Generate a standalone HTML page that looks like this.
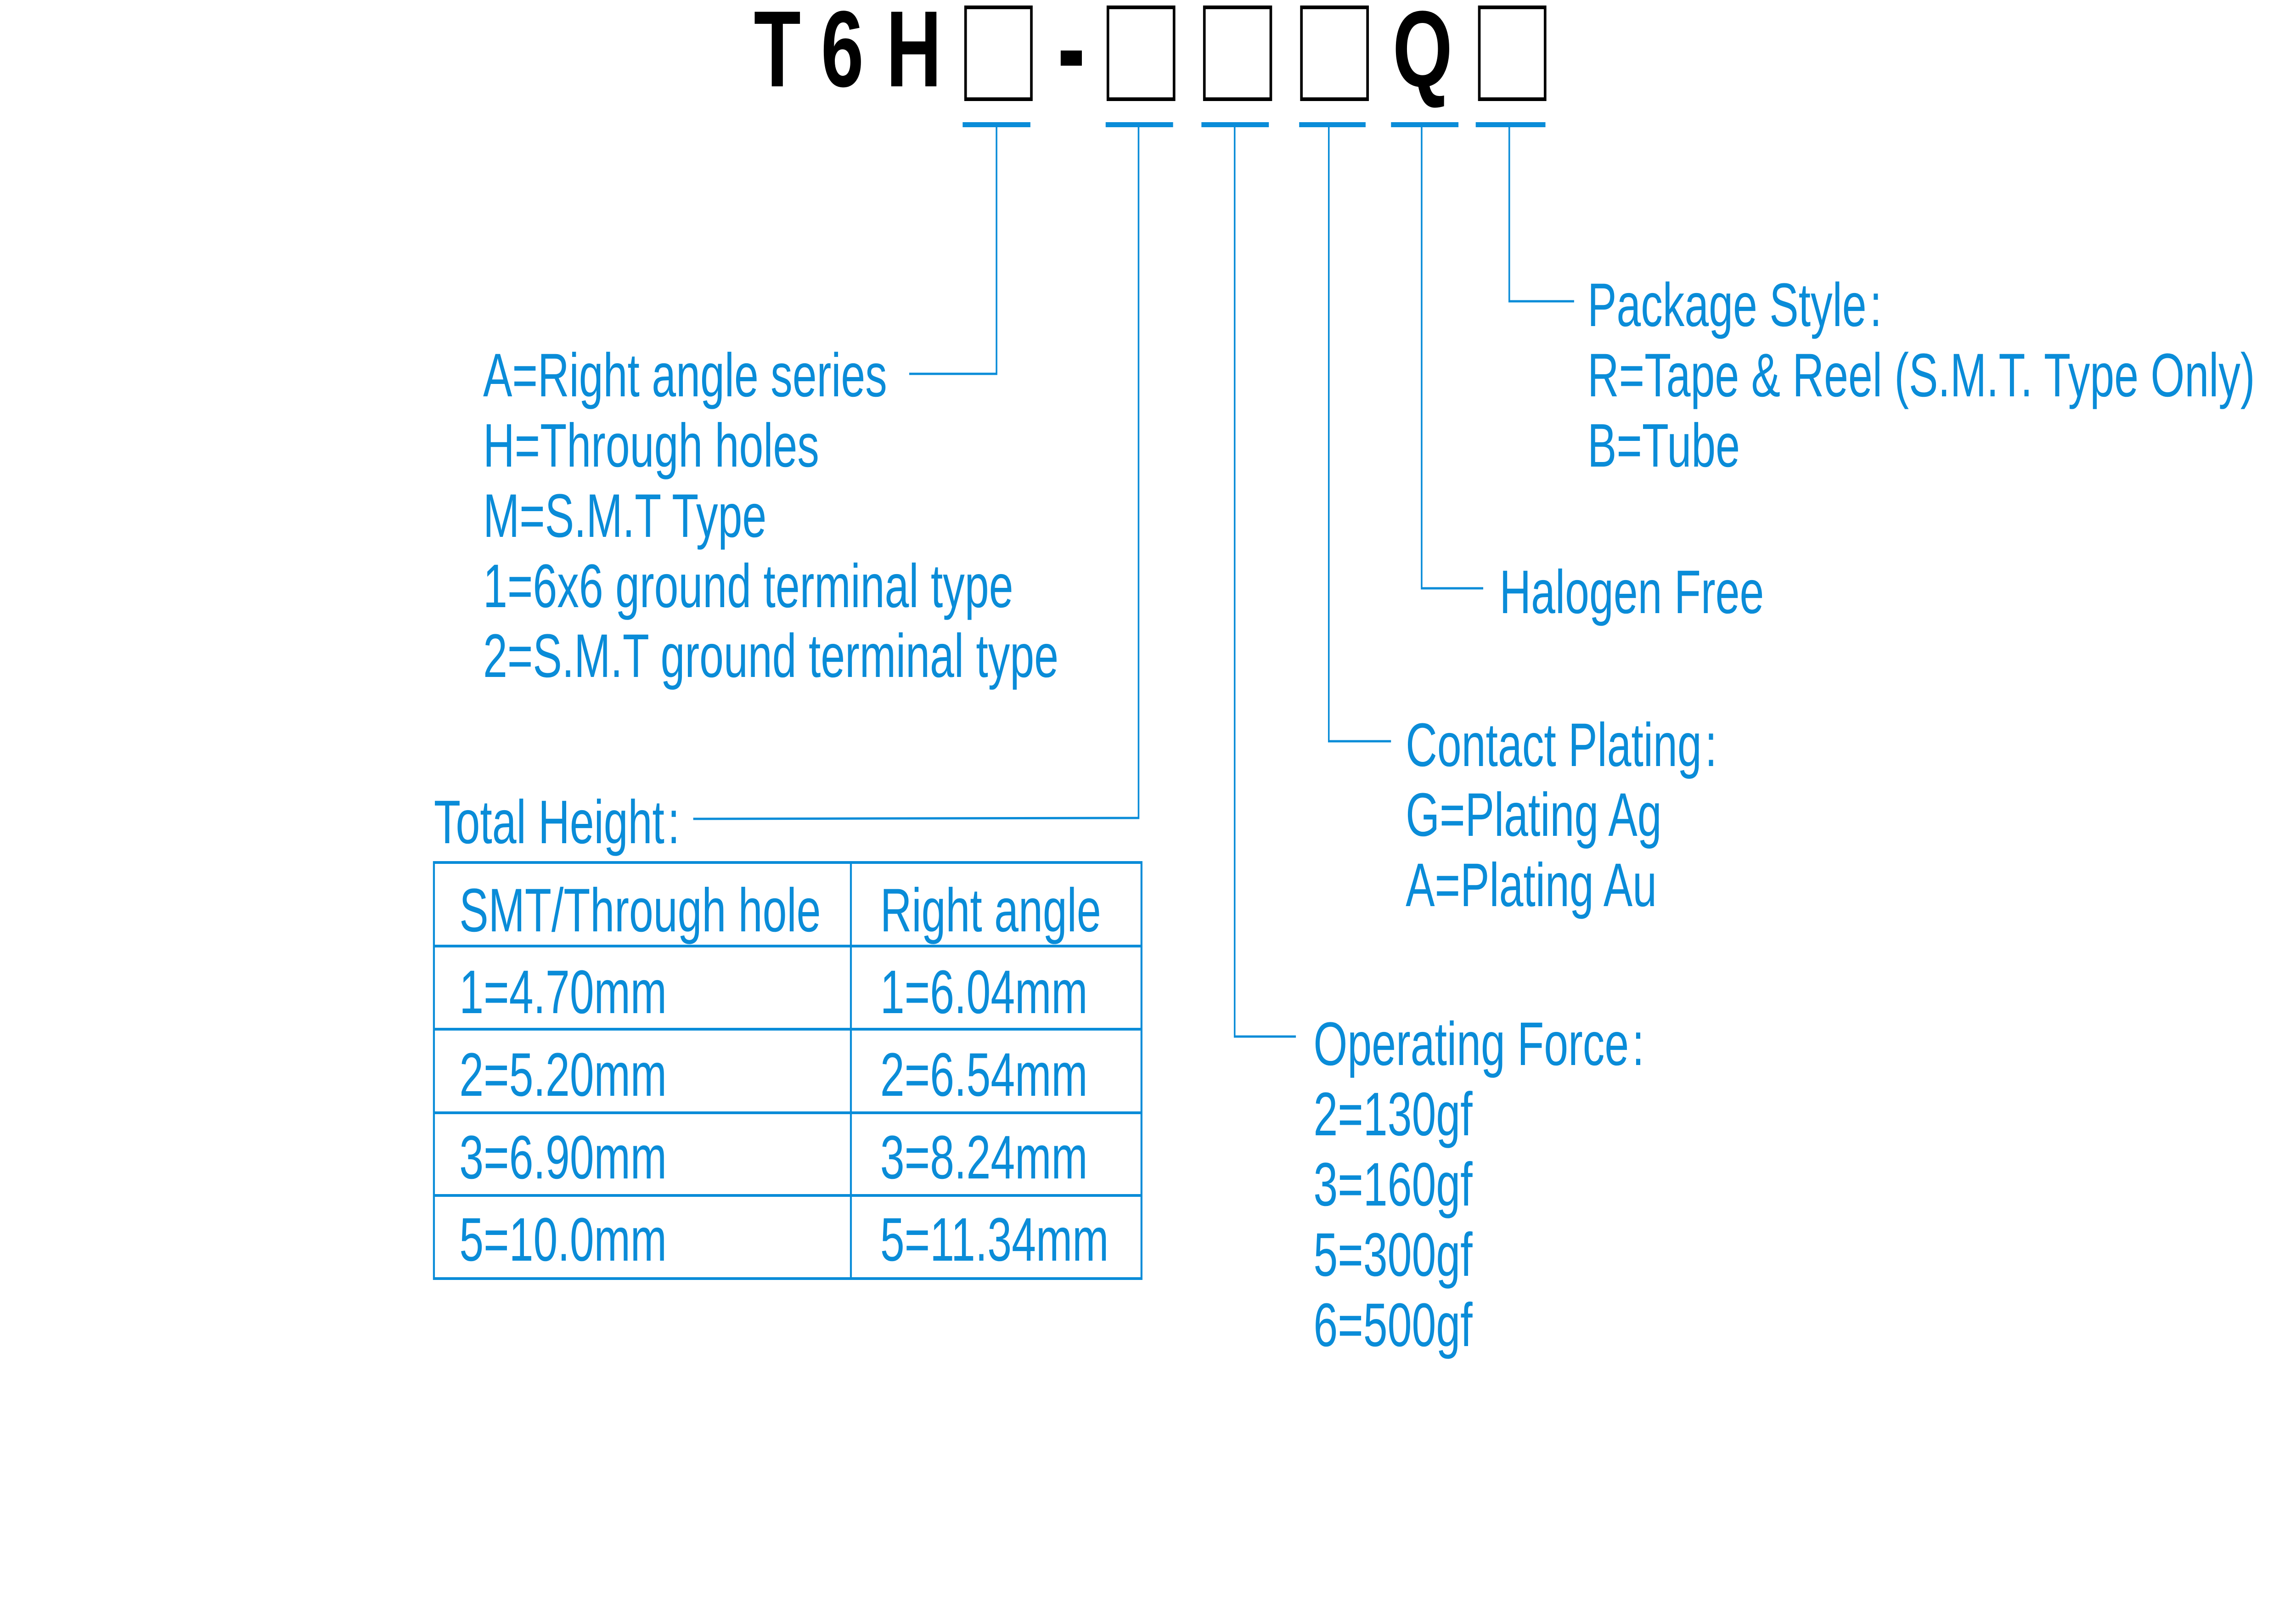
<!DOCTYPE html>
<html><head><meta charset="utf-8"><style>
html,body{margin:0;padding:0;background:#fff;overflow:hidden;width:100%;height:100%;}
svg{display:block;width:100vw;height:100vh;}
.b{font-family:"Liberation Sans",Arial,sans-serif;font-size:134px;fill:#0a8cd8;}
.t{font-family:"Liberation Sans",Arial,sans-serif;font-size:236px;font-weight:bold;fill:#000;}
</style></head><body>
<svg viewBox="0 0 7048 3510" preserveAspectRatio="none" xmlns="http://www.w3.org/2000/svg">
<rect width="7048" height="3510" fill="#fff"/>
<text class="t" x="2314" y="188">T</text>
<text class="t" x="2520" y="188">6</text>
<text class="t" x="2720" y="188">H</text>
<rect x="3256" y="110" width="65" height="33" fill="#000"/>
<text class="t" x="4275" y="188">Q</text>
<g fill="none" stroke="#000" stroke-width="8">
<rect x="2964" y="16" width="202" height="200"/>
<rect x="3401" y="16" width="203" height="200"/>
<rect x="3697" y="16" width="204" height="200"/>
<rect x="3995" y="16" width="203" height="200"/>
<rect x="4541" y="16" width="202" height="200"/>
</g>
<g fill="#0a8cd8">
<rect x="2955" y="266" width="208" height="11"/>
<rect x="3394" y="266" width="207" height="11"/>
<rect x="3688" y="266" width="207" height="11"/>
<rect x="3988" y="266" width="204" height="11"/>
<rect x="4270" y="266" width="207" height="11"/>
<rect x="4530" y="266" width="214" height="11"/>
</g>
<g fill="none" stroke="#0a8cd8" stroke-width="5">
<polyline points="3059,277 3059,814 2791,814"/>
<polyline points="3495,277 3495,1781 2128,1783"/>
<polyline points="3790,277 3790,2257 3978,2257"/>
<polyline points="4079,277 4079,1614 4270,1614"/>
<polyline points="4364,277 4364,1281 4553,1281"/>
<polyline points="4633,277 4633,656 4832,656"/>
</g>
<text class="b" x="1483" y="863">A=Right angle series</text>
<text class="b" x="1483" y="1016">H=Through holes</text>
<text class="b" x="1483" y="1169">M=S.M.T Type</text>
<text class="b" x="1483" y="1322">1=6x6 ground terminal type</text>
<text class="b" x="1483" y="1474">2=S.M.T ground terminal type</text>
<text class="b" x="1332" y="1836">Total Height<tspan dx="10">:</tspan></text>
<g fill="none" stroke="#0a8cd8" stroke-width="6">
<rect x="1332" y="1878" width="2172" height="906"/>
<line x1="2612" y1="1878" x2="2612" y2="2784"/>
<line x1="1332" y1="2060" x2="3504" y2="2060"/>
<line x1="1332" y1="2241" x2="3504" y2="2241"/>
<line x1="1332" y1="2423" x2="3504" y2="2423"/>
<line x1="1332" y1="2603" x2="3504" y2="2603"/>
</g>
<text class="b" x="1410" y="2028">SMT/Through hole</text>
<text class="b" x="2702" y="2028">Right angle</text>
<text class="b" x="1410" y="2206">1=4.70mm</text>
<text class="b" x="2702" y="2206">1=6.04mm</text>
<text class="b" x="1410" y="2386">2=5.20mm</text>
<text class="b" x="2702" y="2386">2=6.54mm</text>
<text class="b" x="1410" y="2566">3=6.90mm</text>
<text class="b" x="2702" y="2566">3=8.24mm</text>
<text class="b" x="1410" y="2745">5=10.0mm</text>
<text class="b" x="2702" y="2745">5=11.34mm</text>
<text class="b" x="4873" y="710">Package Style<tspan dx="10">:</tspan></text>
<text class="b" x="4873" y="863">R=Tape &amp; Reel (S.M.T. Type Only)</text>
<text class="b" x="4873" y="1016">B=Tube</text>
<text class="b" x="4603" y="1335">Halogen Free</text>
<text class="b" x="4315" y="1668">Contact Plating<tspan dx="10">:</tspan></text>
<text class="b" x="4315" y="1820">G=Plating Ag</text>
<text class="b" x="4315" y="1973">A=Plating Au</text>
<text class="b" x="4032" y="2319">Operating Force<tspan dx="10">:</tspan></text>
<text class="b" x="4032" y="2472">2=130gf</text>
<text class="b" x="4032" y="2625">3=160gf</text>
<text class="b" x="4032" y="2778">5=300gf</text>
<text class="b" x="4032" y="2931">6=500gf</text>
</svg>
</body></html>
